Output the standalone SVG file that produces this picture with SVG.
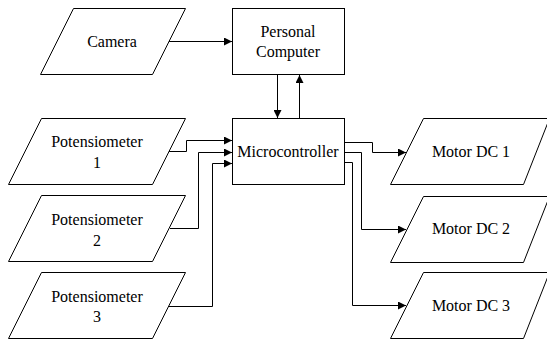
<svg xmlns="http://www.w3.org/2000/svg" width="547" height="340" viewBox="0 0 547 340">
<style>
.s{fill:#fff;stroke:#000;stroke-width:1}
.t{font-family:'Liberation Serif','Times New Roman',serif;font-size:16px;fill:#000;text-anchor:middle}
.c{fill:none;stroke:#000;stroke-width:1}
</style>
<defs>
<marker id="ah" viewBox="0 0 8 8" refX="8" refY="4" markerWidth="8" markerHeight="8" markerUnits="userSpaceOnUse" orient="auto">
<path d="M0,0 L8,4 L0,8 z" fill="#000"/>
</marker>
</defs>
<rect width="547" height="340" fill="#fff"/>
<g id="camera"><polygon class="s" points="73.5,8.5 185.5,8.5 152.5,74.5 40.5,74.5"/><text class="t" x="112" y="47">Camera</text></g>
<g id="pc"><rect class="s" x="232.5" y="8.5" width="112" height="66"/><text class="t" x="288" y="37">Personal</text><text class="t" x="288" y="57">Computer</text></g>
<g id="mcu"><rect class="s" x="232.5" y="118.5" width="112" height="66"/><text class="t" x="288" y="157">Microcontroller</text></g>
<g id="pot1"><polygon class="s" points="41.5,118.5 185.5,118.5 152.5,184.5 8.5,184.5"/><text class="t" x="97" y="147">Potensiometer</text><text class="t" x="97" y="168">1</text></g>
<g id="pot2"><polygon class="s" points="41.5,195.5 185.5,195.5 152.5,261.5 8.5,261.5"/><text class="t" x="97" y="225">Potensiometer</text><text class="t" x="97" y="246">2</text></g>
<g id="pot3"><polygon class="s" points="41.5,272.5 185.5,272.5 152.5,338.5 8.5,338.5"/><text class="t" x="97" y="302">Potensiometer</text><text class="t" x="97" y="322">3</text></g>
<g id="motor1"><polygon class="s" points="423.5,118.5 549.5,118.5 523.5,184.5 390.5,184.5"/><text class="t" x="471" y="157">Motor DC 1</text></g>
<g id="motor2"><polygon class="s" points="423.5,196.5 549.5,196.5 523.5,262.5 390.5,262.5"/><text class="t" x="471" y="234">Motor DC 2</text></g>
<g id="motor3"><polygon class="s" points="423.5,272.5 549.5,272.5 523.5,338.5 390.5,338.5"/><text class="t" x="471" y="311">Motor DC 3</text></g>
<g id="connectors">
<path class="c" marker-end="url(#ah)" d="M169,41.5 H232"/>
<path class="c" marker-end="url(#ah)" d="M277.5,74.5 V118"/>
<path class="c" marker-end="url(#ah)" d="M299.5,118.5 V75"/>
<path class="c" marker-end="url(#ah)" d="M169,151.5 H186.5 V140.5 H232"/>
<path class="c" marker-end="url(#ah)" d="M170,228.5 H198.5 V152.5 H232"/>
<path class="c" marker-end="url(#ah)" d="M169,306.5 H212.5 V163.5 H232"/>
<path class="c" marker-end="url(#ah)" d="M344.5,142.5 H372.5 V152.5 H406"/>
<path class="c" marker-end="url(#ah)" d="M344.5,152.5 H361.5 V229.5 H406"/>
<path class="c" marker-end="url(#ah)" d="M344.5,162.5 H352.5 V305.5 H406"/>
</g>
</svg>
